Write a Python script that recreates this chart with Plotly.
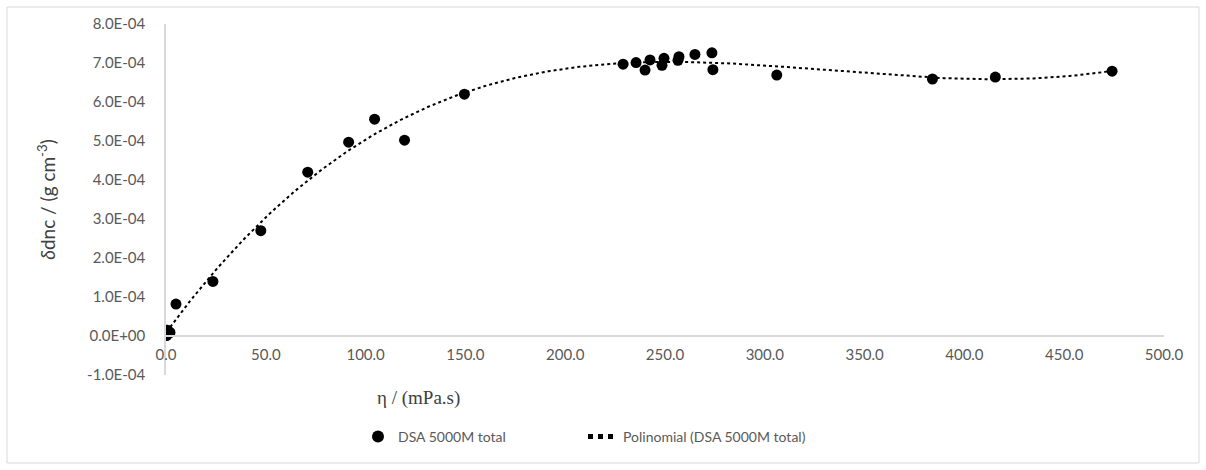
import numpy as np
import plotly.graph_objects as go

# ---- data ----
eta = [0.3, 0.8, 2.0, 5.0, 23.5, 47.5, 71.0, 91.5, 104.5, 119.5, 149.5,
       229.0, 235.5, 240.0, 242.5, 248.5, 249.5, 256.5, 257.0, 265.0, 273.5, 274.0,
       306.0, 384.0, 415.5, 474.0]
ddnc = [0.1e-5, 1.5e-5, 0.9e-5, 8.2e-5, 1.40e-4, 2.70e-4, 4.20e-4, 4.97e-4, 5.56e-4, 5.02e-4, 6.20e-4,
        6.97e-4, 7.01e-4, 6.82e-4, 7.08e-4, 6.94e-4, 7.12e-4, 7.07e-4, 7.16e-4, 7.22e-4, 7.26e-4, 6.83e-4,
        6.69e-4, 6.59e-4, 6.64e-4, 6.79e-4]

y_tickvals = [-1e-4, 0, 1e-4, 2e-4, 3e-4, 4e-4, 5e-4, 6e-4, 7e-4, 8e-4]
y_ticktext = ["-1.0E-04", "0.0E+00", "1.0E-04", "2.0E-04", "3.0E-04", "4.0E-04",
              "5.0E-04", "6.0E-04", "7.0E-04", "8.0E-04"]
x_tickvals = [0, 50, 100, 150, 200, 250, 300, 350, 400, 450, 500]

series_name = "DSA 5000M total"
trend_name = "Polinomial (DSA 5000M total)"
poly_order = 4

# ---- polynomial trendline fitted to the data ----
coef = np.polyfit(eta, ddnc, poly_order)
x_fit = np.linspace(min(eta), max(eta), 400)
y_fit = np.polyval(coef, x_fit)

W, H = 1206, 470
ml, mr, mt, mb = 166, 42, 24, 95
pw = W - ml - mr
ph = H - mt - mb

fig = go.Figure()
fig.add_trace(go.Scatter(x=eta, y=ddnc, mode="markers", name=series_name,
                         marker=dict(color="black", size=11, line=dict(width=0))))
fig.add_trace(go.Scatter(x=x_fit, y=y_fit, mode="lines", name=trend_name,
                         line=dict(color="black", width=2, dash="dot")))

ymin, ymax = -1e-4, 8e-4
zero_pos = (0 - ymin) / (ymax - ymin)

sans = "Lato, 'Open Sans', sans-serif"
tickfont = dict(family=sans, size=15, color="#595959")

fig.update_layout(
    width=W, height=H,
    margin=dict(l=ml, r=mr, t=mt, b=mb),
    paper_bgcolor="white", plot_bgcolor="white",
    showlegend=True,
    legend=dict(orientation="h", x=(358 - ml) / pw, xanchor="left",
                y=-(437 - (mt + ph)) / ph, yanchor="middle",
                font=dict(family=sans, size=14, color="#595959"),
                entrywidth=180, itemsizing="constant"),
    xaxis=dict(range=[0, 500], tickvals=x_tickvals, tickformat=".1f",
               showgrid=False, zeroline=False, showline=True, linecolor="#D9D9D9", linewidth=1.5,
               anchor="free", position=zero_pos,
               ticks="outside", ticklen=5, tickcolor="rgba(0,0,0,0)",
               tickfont=tickfont),
    yaxis=dict(range=[ymin, ymax], tickvals=y_tickvals, ticktext=y_ticktext,
               showgrid=False, zeroline=False, showline=True, linecolor="#D9D9D9", linewidth=1.5,
               ticks="outside", ticklen=16, tickcolor="rgba(0,0,0,0)",
               tickfont=tickfont,
               title=dict(text="<i>δ</i>dnc / (g cm<sup>-3</sup>)",
                          font=dict(family=sans, size=19, color="#404040"),
                          standoff=26)),
)

# x-axis title (serif) below the tick labels
fig.add_annotation(text="η / (mPa.s)", xref="paper", yref="paper",
                   x=(418 - ml) / pw, y=-(398 - (mt + ph)) / ph,
                   showarrow=False, xanchor="center", yanchor="middle",
                   font=dict(family="Liberation Serif, serif", size=19, color="#404040"))

# chart-area border
fig.add_shape(type="rect", xref="paper", yref="paper",
              x0=(7 - ml) / pw, x1=(1199 - ml) / pw,
              y0=-(463 - (mt + ph)) / ph, y1=(mt + ph - 7) / ph,
              line=dict(color="#D9D9D9", width=1), layer="below")

fig.write_html("out.html")
